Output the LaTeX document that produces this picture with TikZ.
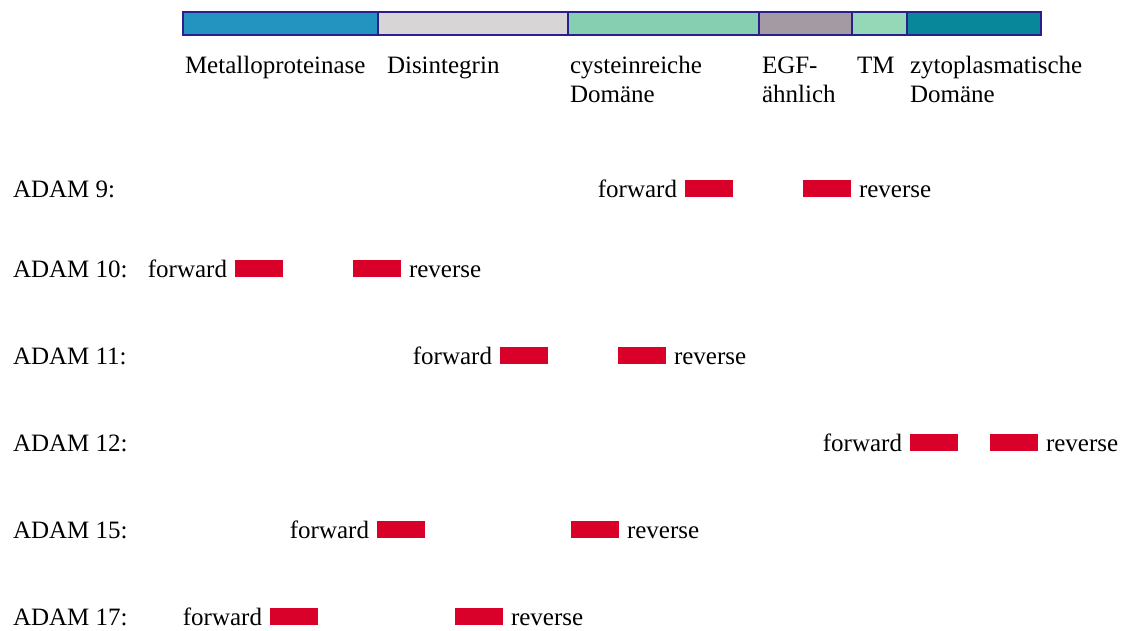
\documentclass[tikz,border=0pt]{standalone}
\usepackage{fontspec}
\setmainfont{Liberation Serif}
\definecolor{cMP}{RGB}{35,148,192}
\definecolor{cDI}{RGB}{215,213,213}
\definecolor{cCR}{RGB}{134,207,176}
\definecolor{cEGF}{RGB}{163,154,163}
\definecolor{cTM}{RGB}{148,216,184}
\definecolor{cCY}{RGB}{8,134,154}
\definecolor{cEdge}{RGB}{44,30,140}
\definecolor{cPrimer}{RGB}{217,0,41}
\begin{document}
\begin{tikzpicture}[x=1pt,y=-1pt,
  every node/.style={font=\fontsize{25}{29}\selectfont, inner sep=0pt, outer sep=0pt},
  seg/.style={draw=cEdge, line width=2pt, minimum height=23pt, anchor=west},
  lbl/.style={anchor=base west, align=left},
  primer/.style={fill=cPrimer, minimum width=48pt, minimum height=17pt, anchor=south west},
  fwd/.style={anchor=base east},
  rev/.style={anchor=base west}]
\useasboundingbox (0,0) rectangle (1124,630);
% domain bar
\node[seg, fill=cMP,  minimum width=195pt] (s1) at (183,23.5) {};
\node[seg, fill=cDI,  minimum width=190pt] (s2) at (378,23.5) {};
\node[seg, fill=cCR,  minimum width=191pt] (s3) at (568,23.5) {};
\node[seg, fill=cEGF, minimum width=93pt]  (s4) at (759,23.5) {};
\node[seg, fill=cTM,  minimum width=55pt]  (s5) at (852,23.5) {};
\node[seg, fill=cCY,  minimum width=134pt] (s6) at (907,23.5) {};
% domain labels
\node[lbl] (l1) at (185,73) {Metalloproteinase};
\node[lbl] (l2) at (387,73) {Disintegrin};
\node[lbl] (l3) at (570,73) {cysteinreiche};
\node[lbl] (l3b) at (570,102) {Domäne};
\node[lbl] (l4) at (762,73) {EGF-};
\node[lbl] (l4b) at (762,102) {ähnlich};
\node[lbl] (l5) at (857,73) {TM};
\node[lbl] (l6) at (910,73) {zytoplasmatische};
\node[lbl] (l6b) at (910,102) {Domäne};
% rows
\foreach \name/\y/\fx/\rx in {9/197/685/803, 10/277/235/353, 11/364/500/618, 12/451/910/990, 15/538/377/571, 17/625/270/455}{
  \node[lbl] (a\name) at (13,\y) {ADAM \name:};
  \node[primer] (pf\name) at (\fx,\y) {};
  \node[primer] (pr\name) at (\rx,\y) {};
  \node[fwd] (tf\name) at ([xshift=-8pt]pf\name.south west) {forward};
  \node[rev] (tr\name) at ([xshift=8pt]pr\name.south east) {reverse};
}
\end{tikzpicture}
\end{document}
